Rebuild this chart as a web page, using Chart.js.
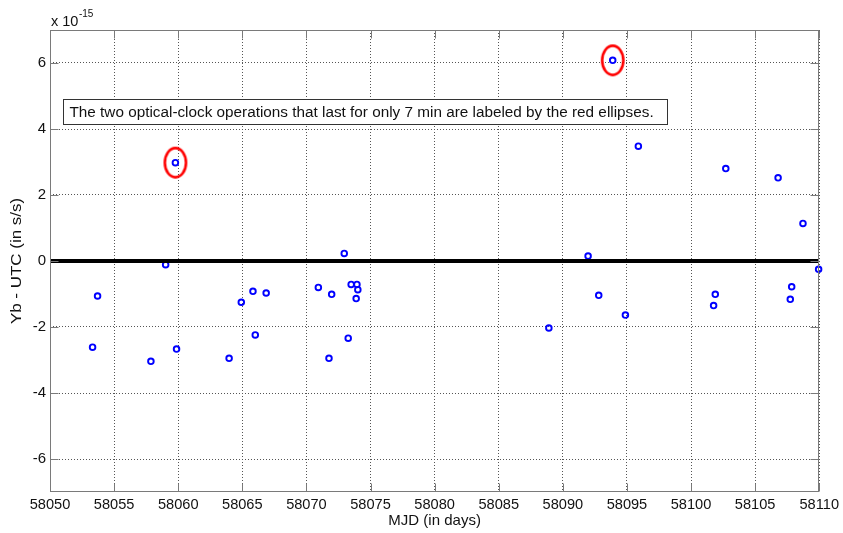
<!DOCTYPE html>
<html>
<head>
<meta charset="utf-8">
<script src="https://cdn.jsdelivr.net/npm/chart.js@4/dist/chart.umd.min.js"></script>
<style>
  html, body { margin: 0; padding: 0; background: #fff; }
  canvas { display: block; }
</style>
</head>
<body>
<canvas id="chart" width="843" height="533"></canvas>
<script>
// Daily comparison of the Yb optical clock against UTC
const mjd = [
  58053.32, 58053.71, 58057.87, 58059.02, 58059.78, 58059.87,
  58063.97, 58064.92, 58065.83, 58066.01, 58066.86,
  58070.93, 58071.76, 58071.97, 58072.95, 58073.26, 58073.49, 58073.94, 58074.01, 58073.88,
  58088.91, 58091.97, 58092.80, 58093.89, 58094.88, 58095.89,
  58101.89, 58101.76, 58102.71, 58106.79, 58107.85, 58107.74, 58108.73, 58109.95
];
// fractional frequency offset, in units of 1e-15
const ybMinusUtc = [
  -2.61, -1.06, -3.04, -0.11, 2.98, -2.67,
  -2.95, -1.25, -0.92, -2.24, -0.97,
  -0.80, -2.95, -1.01, 0.23, -2.34, -0.71, -0.71, -0.87, -1.14,
  -2.03, 0.15, -1.04, 6.08, -1.64, 3.48,
  -1.01, -1.35, 2.80, 2.52, -0.78, -1.16, 1.14, -0.25
];
// runs that lasted only 7 minutes
const shortRunIdx = [4, 23];

const xLimits = [58050, 58110];
const yLimits = [-7, 7];
const xTickVals = [58050, 58055, 58060, 58065, 58070, 58075, 58080, 58085, 58090, 58095, 58100, 58105, 58110];
const yTickVals = [-6, -4, -2, 0, 2, 4, 6];
const yExponent = '-15';

const xTitle = 'MJD (in days)';
const yTitle = 'Yb - UTC (in s/s)';
const noteText = 'The two optical-clock operations that last for only 7 min are labeled by the red ellipses.';

const FONT = "'Liberation Sans', Arial, Helvetica, sans-serif";
const AXIS_GRAY = '#7a7a7a';
const TEXT = '#111';

// red ellipse marker used as a point style
function makeEllipse() {
  const c = document.createElement('canvas');
  c.width = 28; c.height = 36;
  const g = c.getContext('2d');
  g.strokeStyle = '#ff0000';
  g.lineWidth = 2.6;
  g.beginPath();
  g.ellipse(14, 18, 10.6, 14.6, 0, 0, Math.PI * 2);
  g.stroke();
  return c;
}

// axes box, inward tick marks, y title, exponent label and the note box
const framePlugin = {
  id: 'frame',
  afterDraw(chart, args, opts) {
    const { ctx, chartArea: a } = chart;
    const xs = chart.scales.x, ys = chart.scales.y;
    const L = Math.round(a.left) + 0.5, R = Math.round(a.right) - 0.5;
    const T = Math.round(a.top) + 0.5, B = Math.round(a.bottom) - 0.5;
    ctx.save();
    ctx.strokeStyle = AXIS_GRAY;
    ctx.lineWidth = 1;
    ctx.beginPath();
    const tl = 8;
    xTickVals.forEach(v => {
      const px = Math.round(xs.getPixelForValue(v)) + 0.5;
      ctx.moveTo(px, B); ctx.lineTo(px, B - tl);
      ctx.moveTo(px, T); ctx.lineTo(px, T + tl);
    });
    yTickVals.forEach(v => {
      const py = Math.round(ys.getPixelForValue(v)) + 0.5;
      ctx.moveTo(L, py); ctx.lineTo(L + tl, py);
      ctx.moveTo(R, py); ctx.lineTo(R - tl, py);
    });
    ctx.stroke();
    ctx.strokeRect(L, T, R - L, B - T);

    // y axis title, rotated and stretched along its length
    ctx.save();
    ctx.fillStyle = TEXT;
    ctx.font = '15px ' + FONT;
    ctx.textAlign = 'center';
    ctx.textBaseline = 'middle';
    ctx.translate(opts.yTitleX, (a.top + a.bottom) / 2);
    ctx.rotate(-Math.PI / 2);
    ctx.scale(1.13, 1);
    ctx.fillText(yTitle, 0, 0);
    ctx.restore();

    // exponent of the y values
    ctx.fillStyle = TEXT;
    ctx.textBaseline = 'alphabetic';
    ctx.textAlign = 'left';
    ctx.font = '14.5px ' + FONT;
    const base = 'x 10';
    ctx.fillText(base, a.left + 1, a.top - 4);
    const w = ctx.measureText(base).width;
    ctx.font = '10px ' + FONT;
    ctx.fillText(yExponent, a.left + 1 + w + 0.5, a.top - 13);

    // note box
    ctx.font = '15.3px ' + FONT;
    const bx = Math.round(xs.getPixelForValue(opts.noteAt.x)) + 0.5;
    const by = Math.round(ys.getPixelForValue(opts.noteAt.y)) + 0.5;
    const tw = ctx.measureText(noteText).width;
    const bw = Math.round(tw + 20), bh = 25;
    ctx.fillStyle = '#fff';
    ctx.fillRect(bx, by, bw, bh);
    ctx.strokeStyle = '#333';
    ctx.strokeRect(bx, by, bw, bh);
    ctx.fillStyle = TEXT;
    ctx.textBaseline = 'middle';
    ctx.fillText(noteText, bx + 6, by + bh / 2 + 0.5);
    ctx.restore();
  }
};

const points = mjd.map((x, i) => ({ x, y: ybMinusUtc[i] }));
const shortRuns = shortRunIdx.map(i => ({ x: mjd[i], y: ybMinusUtc[i] }));
const zeroLine = xLimits.map(x => ({ x, y: 0 }));

new Chart(document.getElementById('chart'), {
  type: 'scatter',
  data: {
    datasets: [
      {
        label: 'zero',
        type: 'line',
        data: zeroLine,
        borderColor: '#000',
        borderWidth: 4,
        pointRadius: 0,
        order: 0
      },
      {
        label: '7-min runs',
        data: shortRuns,
        pointStyle: makeEllipse(),
        pointRadius: 12,
        clip: false,
        order: 0
      },
      {
        label: 'Yb - UTC',
        data: points,
        pointStyle: 'circle',
        pointRadius: 2.8,
        pointBorderWidth: 1.9,
        pointBorderColor: '#0000ff',
        pointBackgroundColor: 'rgba(0,0,0,0)',
        clip: false,
        order: 2
      }
    ]
  },
  options: {
    responsive: false,
    animation: false,
    devicePixelRatio: 1,
    layout: { padding: { left: 0, top: 30, right: 22, bottom: 0 } },
    plugins: {
      legend: { display: false },
      tooltip: { enabled: false },
      frame: { noteAt: { x: 58051.03, y: 4.9 }, yTitleX: 17 }
    },
    scales: {
      x: {
        type: 'linear',
        min: xLimits[0],
        max: xLimits[1],
        afterBuildTicks: s => { s.ticks = xTickVals.map(v => ({ value: v })); },
        afterFit: s => { s.height = 41; },
        ticks: {
          autoSkip: false,
          maxRotation: 0,
          padding: 4,
          color: TEXT,
          font: { family: FONT, size: 14.6 },
          callback: v => String(v)
        },
        grid: { color: '#555', lineWidth: 1, drawTicks: false },
        border: { display: false, dash: [1, 2] },
        title: {
          display: true,
          text: xTitle,
          color: TEXT,
          font: { family: FONT, size: 15 },
          padding: { top: 0, bottom: 3 }
        }
      },
      y: {
        type: 'linear',
        min: yLimits[0],
        max: yLimits[1],
        afterBuildTicks: s => { s.ticks = yTickVals.map(v => ({ value: v })); },
        afterFit: s => { s.width = 50; },
        ticks: {
          padding: 4,
          color: TEXT,
          font: { family: FONT, size: 15 },
          callback: v => String(v)
        },
        grid: { color: '#555', lineWidth: 1, drawTicks: false },
        border: { display: false, dash: [1, 2] }
      }
    }
  },
  plugins: [framePlugin]
});
</script>
</body>
</html>
